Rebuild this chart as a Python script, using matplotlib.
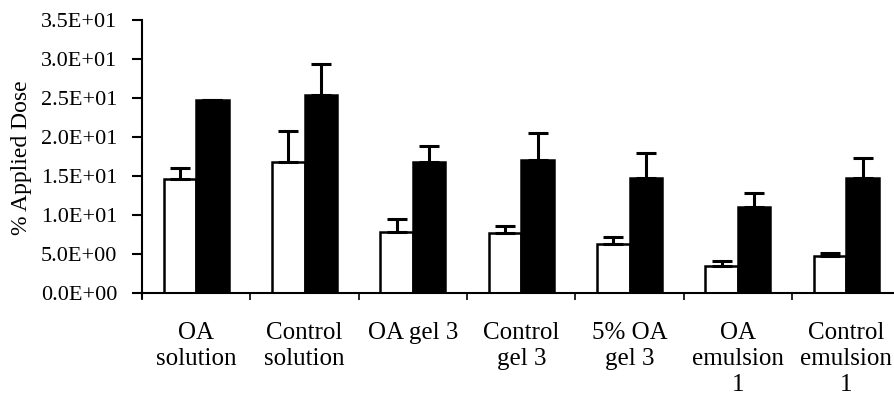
import matplotlib
matplotlib.use("Agg")
import matplotlib.pyplot as plt
import numpy as np
from matplotlib.ticker import FixedLocator, FuncFormatter

categories = ["OA\nsolution", "Control\nsolution", "OA gel 3", "Control\ngel 3",
              "5% OA\ngel 3", "OA\nemulsion\n1", "Control\nemulsion\n1"]
white_vals = [14.6, 16.8, 7.8, 7.7, 6.3, 3.4, 4.7]
white_err = [1.4, 4.0, 1.7, 0.9, 0.9, 0.7, 0.4]
black_vals = [24.8, 25.4, 16.8, 17.1, 14.8, 11.0, 14.8]
black_err = [0.0, 4.0, 2.0, 3.4, 3.1, 1.8, 2.5]
yticks = [0, 5, 10, 15, 20, 25, 30, 35]

plt.rcParams['font.family'] = ['Liberation Serif', 'DejaVu Serif']

fig = plt.figure(figsize=(8.94, 4.01), dpi=100)
ax = fig.add_axes([142/894, 108/401, (894-142)/894, 273/401])

x = np.arange(len(categories))
w = 0.3
ax.bar(x - w/2, white_vals, w, color='white', edgecolor='black', linewidth=1.8, zorder=2)
ax.bar(x + w/2, black_vals, w, color='black', edgecolor='black', linewidth=1.8, zorder=2)
ax.errorbar(x - w/2, white_vals, yerr=[np.zeros(len(white_err)), white_err],
            fmt='none', ecolor='black', elinewidth=2.2, capsize=7, capthick=2.2, zorder=3)
ax.errorbar(x + w/2, black_vals, yerr=[np.zeros(len(black_err)), black_err],
            fmt='none', ecolor='black', elinewidth=2.2, capsize=7, capthick=2.2, zorder=3)

ax.set_xlim(-0.5, 6.44)
ax.set_ylim(0, 35)
ax.spines['top'].set_visible(False)
ax.spines['right'].set_visible(False)
ax.spines['left'].set_linewidth(1.5)
ax.spines['bottom'].set_linewidth(1.5)
ax.spines['left'].set_bounds(-0.7, 35)

ax.yaxis.set_major_locator(FixedLocator(yticks))
ax.yaxis.set_major_formatter(FuncFormatter(lambda v, p: f"{v:.1E}"))
ax.tick_params(axis='y', direction='out', length=7, width=1.5, pad=11, labelsize=16)

ax.set_xticks(x)
ax.set_xticklabels(categories, fontsize=18, linespacing=1.22)
ax.tick_params(axis='x', which='major', length=0, pad=21)
ax.set_xticks(np.arange(len(categories)) - 0.5, minor=True)
ax.tick_params(axis='x', which='minor', direction='out', length=5, width=1.2)

fig.text(22/894, 1 - 158/401, "% Applied Dose", rotation=90, ha='center', va='center', fontsize=17)

fig.savefig("out.png", dpi=100)
